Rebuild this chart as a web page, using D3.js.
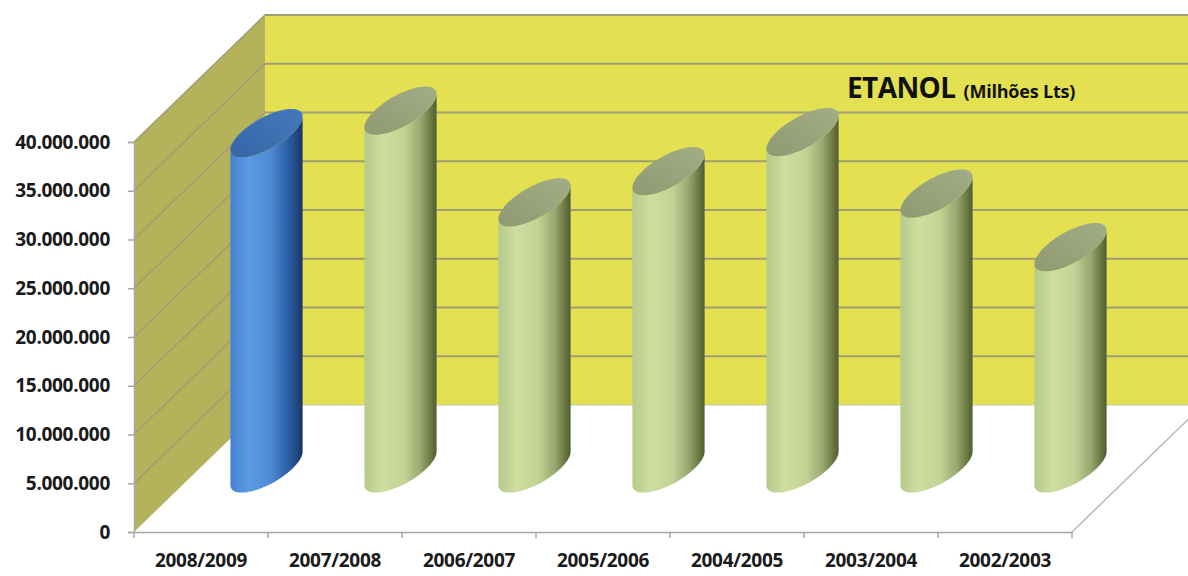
<!DOCTYPE html>
<html>
<head>
<meta charset="utf-8">
<script src="https://cdn.jsdelivr.net/npm/d3@7"></script>
<style>
  html, body { margin: 0; padding: 0; background: #ffffff; }
  svg { display: block; }
  text { font-family: "Open Sans", "DejaVu Sans", sans-serif; }
</style>
</head>
<body>
<svg id="chart" width="1188" height="576"></svg>
<script>
// ---- data ----
const categories = ["2008/2009", "2007/2008", "2006/2007", "2005/2006", "2004/2005", "2003/2004", "2002/2003"];
const values = [34400000, 36700000, 27300000, 30500000, 34500000, 28200000, 22700000];
const highlight = ["2008/2009"];
const yTickValues = [0, 5000000, 10000000, 15000000, 20000000, 25000000, 30000000, 35000000, 40000000];
const titleMain = "ETANOL";
const titleSub = "(Milhões Lts)";

// ---- layout ----
const W = 1188, H = 576;
const svg = d3.select("#chart");
const locale = d3.formatLocale({ decimal: ",", thousands: ".", grouping: [3], currency: ["R$", ""] });
const fmt = locale.format(",d");

const x = d3.scaleBand().domain(categories).range([134, 1072]).padding(0);
const y = d3.scaleLinear().domain([0, 40000000]).range([532, 142]);
// depth (0 = front, 1 = back) -> screen offset
const dX = d3.scaleLinear().domain([0, 1]).range([0, 131]);
const dY = d3.scaleLinear().domain([0, 1]).range([0, -127]);

const yMax = y.domain()[1];
const x0 = x.range()[0], x1 = x.range()[1];

const defs = svg.append("defs");
function bodyGrad(id, stops) {
  const g = defs.append("linearGradient").attr("id", id).attr("x1", 0).attr("x2", 1).attr("y1", 0).attr("y2", 0);
  stops.forEach(s => g.append("stop").attr("offset", s[0]).attr("stop-color", s[1]));
}
bodyGrad("gGreen", [[0, "#b6ca8b"], [0.25, "#cddea0"], [0.55, "#c2d394"], [0.78, "#97a770"], [0.93, "#68753f"], [1, "#505c35"]]);
bodyGrad("gBlue", [[0, "#4583d2"], [0.25, "#5b9be2"], [0.55, "#4f8bd6"], [0.78, "#2f63a8"], [0.93, "#1f4680"], [1, "#17335e"]]);
function topGrad(id, a, b) {
  const g = defs.append("linearGradient").attr("id", id).attr("x1", 0).attr("x2", 1).attr("y1", 1).attr("y2", 0);
  g.append("stop").attr("offset", 0).attr("stop-color", a);
  g.append("stop").attr("offset", 1).attr("stop-color", b);
}
topGrad("tGreen", "#8f9a72", "#a2ac85");
topGrad("tBlue", "#3566a6", "#4479bd");

const gridColor = "#a09c74";

// floor (white) outline
const floor = svg.append("g");
floor.append("path")
  .attr("d", d3.line()([
    [x0, y(0)], [x1, y(0)], [x1 + dX(1), y(0) + dY(1)], [x0 + dX(1), y(0) + dY(1)]
  ]) + "Z")
  .attr("fill", "#ffffff").attr("stroke", "none");
floor.append("path")
  .attr("d", d3.line()([[x1, y(0)], [x1 + dX(1), y(0) + dY(1)]]))
  .attr("stroke", "#b8b8b8").attr("stroke-width", 1.5).attr("fill", "none");

// back wall
svg.append("path")
  .attr("d", d3.line()([
    [x0 + dX(1), y(0) + dY(1)], [x1 + dX(1), y(0) + dY(1)], [x1 + dX(1), y(yMax) + dY(1)], [x0 + dX(1), y(yMax) + dY(1)]
  ]) + "Z")
  .attr("fill", "#e3e052");

// side wall
svg.append("path")
  .attr("d", d3.line()([
    [x0, y(0)], [x0, y(yMax)], [x0 + dX(1), y(yMax) + dY(1)], [x0 + dX(1), y(0) + dY(1)]
  ]) + "Z")
  .attr("fill", "#b4b25b");

// grid lines
const grid = svg.append("g");
yTickValues.forEach(v => {
  if (v > 0) {
    grid.append("line")
      .attr("x1", x0 + dX(1)).attr("x2", x1 + dX(1))
      .attr("y1", y(v) + dY(1)).attr("y2", y(v) + dY(1))
      .attr("stroke", gridColor).attr("stroke-width", 2);
    grid.append("line")
      .attr("x1", x0).attr("x2", x0 + dX(1))
      .attr("y1", y(v)).attr("y2", y(v) + dY(1))
      .attr("stroke", gridColor).attr("stroke-width", 1.5);
  }
});
grid.append("line")
  .attr("x1", x0 + dX(1)).attr("x2", x1 + dX(1))
  .attr("y1", y(0) + dY(1)).attr("y2", y(0) + dY(1))
  .attr("stroke", "#c8c6a0").attr("stroke-width", 1);

// title on back wall
const title = svg.append("text").attr("x", 847).attr("y", 98).attr("fill", "#111");
title.append("tspan").attr("font-size", 28).attr("font-weight", 700).attr("letter-spacing", -0.6).text(titleMain);
title.append("tspan").attr("font-size", 18).attr("font-weight", 700).attr("dx", 8).attr("letter-spacing", -0.2).text(titleSub);

// cylinders
const zc = 0.5, rz = 0.19;
const R = x.bandwidth() * 0.195;
const ox = dX(rz), oy = dY(rz);
const th0 = Math.atan2(ox, R);
function ellPt(cx, cy, t) {
  return [cx + R * Math.cos(t) + ox * Math.sin(t), cy + oy * Math.sin(t)];
}
const N = 60;
const cyl = svg.append("g");
categories.forEach((c, i) => {
  const v = values[i];
  const cx = x(c) + x.bandwidth() / 2 + dX(zc);
  const cyB = y(0) + dY(zc);
  const cyT = y(v) + dY(zc);
  const isHi = highlight.includes(c);
  const pts = [];
  for (let k = 0; k <= N; k++) pts.push(ellPt(cx, cyB, th0 + Math.PI + Math.PI * k / N));
  for (let k = 0; k <= N; k++) pts.push(ellPt(cx, cyT, th0 + 2 * Math.PI - Math.PI * k / N));
  cyl.append("path")
    .attr("d", d3.line()(pts) + "Z")
    .attr("fill", isHi ? "url(#gBlue)" : "url(#gGreen)");
  const tp = [];
  for (let k = 0; k < 2 * N; k++) tp.push(ellPt(cx, cyT, Math.PI * k / N));
  cyl.append("path")
    .attr("d", d3.line()(tp) + "Z")
    .attr("fill", isHi ? "url(#tBlue)" : "url(#tGreen)");
});

// y axis
const yAxis = d3.axisLeft(y).tickValues(yTickValues).tickFormat(fmt).tickSize(6).tickPadding(18);
const gy = svg.append("g").attr("transform", `translate(${x0},0)`).call(yAxis);
gy.select(".domain").attr("stroke", "#a8a8a8").attr("stroke-width", 1.5);
gy.selectAll(".tick line").attr("stroke", "#a8a8a8").attr("stroke-width", 1.5);
gy.selectAll(".tick text").attr("font-size", 19).attr("font-weight", 700).attr("fill", "#1a1a1a")
  .attr("font-family", "'Open Sans', sans-serif").attr("letter-spacing", -0.3);

// x axis
const xAxis = d3.axisBottom(x).tickSize(0).tickPadding(22);
const gx = svg.append("g").attr("transform", `translate(0,${y(0)})`).call(xAxis);
gx.select(".domain").attr("stroke", "#a8a8a8").attr("stroke-width", 1.5);
gx.selectAll(".tick text").attr("font-size", 19).attr("font-weight", 700).attr("fill", "#1a1a1a")
  .attr("font-family", "'Open Sans', sans-serif").attr("letter-spacing", -0.3);
// band boundary ticks
gx.selectAll(".bnd").data(categories.concat(["__end"])).enter().append("line")
  .attr("x1", (d, i) => i < categories.length ? x(d) : x1)
  .attr("x2", (d, i) => i < categories.length ? x(d) : x1)
  .attr("y1", 0).attr("y2", 6)
  .attr("stroke", "#a8a8a8").attr("stroke-width", 1.5);
</script>
</body>
</html>
